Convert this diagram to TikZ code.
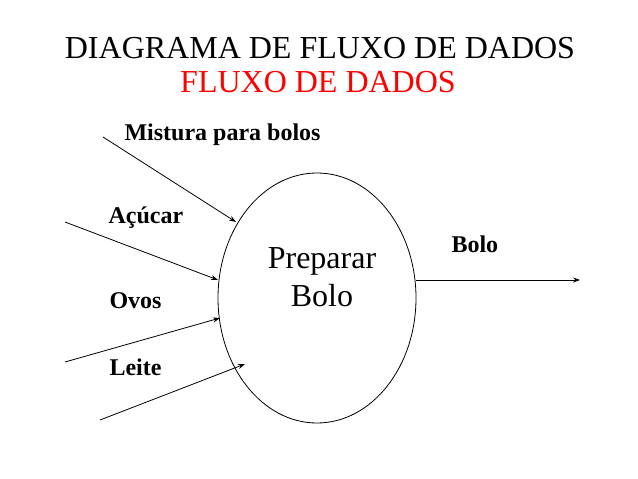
\documentclass[tikz,border=0pt]{standalone}
\usepackage{fontspec}
\setmainfont{Liberation Serif}
\usetikzlibrary{arrows.meta,shapes.geometric}
\begin{document}
\begin{tikzpicture}[x=1pt,y=-1pt,
  lbl/.style={font=\bfseries\fontsize{24}{26}\selectfont,anchor=base west},
  flow/.style={-{Stealth[length=7pt,width=5pt]},line width=0.8pt}]
\useasboundingbox[fill=white] (0,0) rectangle (638,479);
\node[font=\fontsize{32}{34}\selectfont,anchor=base] (t1) at (320,58) {DIAGRAMA DE FLUXO DE DADOS};
\node[font=\fontsize{32}{34}\selectfont,anchor=base,text=red] (t2) at (318,92) {FLUXO DE DADOS};
\node[ellipse,draw,line width=0.8pt,minimum width=198pt,minimum height=250pt] (p) at (317,298) {};
\node[font=\fontsize{32}{38}\selectfont,align=center] (pt) at (322,277) {Preparar\\Bolo};
\coordinate (s1) at (103,137); \coordinate (e1) at (236,222);
\coordinate (s2) at (65,222);  \coordinate (e2) at (218,280);
\coordinate (s3) at (65,362);  \coordinate (e3) at (220,318);
\coordinate (s4) at (100,420); \coordinate (e4) at (245,364);
\coordinate (s5) at (416,280); \coordinate (e5) at (580,280);
\draw[flow] (s1) -- (e1);
\draw[flow] (s2) -- (e2);
\draw[flow] (s3) -- (e3);
\draw[flow] (s4) -- (e4);
\draw[flow] (s5) -- (e5);
\node[lbl] (l1) at (121,140) {Mistura para bolos};
\node[lbl] (l2) at (105,223) {Açúcar};
\node[lbl] (l3) at (106,308) {Ovos};
\node[lbl] (l4) at (106,375) {Leite};
\node[lbl] (l5) at (448,252) {Bolo};
\end{tikzpicture}
\end{document}
